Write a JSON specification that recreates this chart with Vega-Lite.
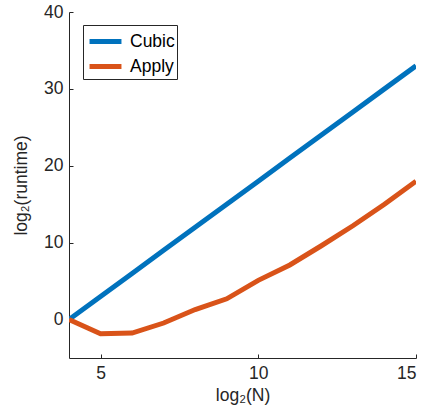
{
  "$schema": "https://vega.github.io/schema/vega-lite/v6.json",
  "width": 347,
  "height": 346,
  "autosize": {"type": "none"},
  "padding": {"left": 69, "top": 12, "right": 8, "bottom": 59},
  "background": "white",
  "config": {
    "view": {"stroke": null},
    "font": "Liberation Sans",
    "axis": {
      "grid": false,
      "domainColor": "#262626",
      "tickColor": "#262626",
      "labelColor": "#262626",
      "titleColor": "#262626",
      "labelFont": "Liberation Sans",
      "titleFont": "Liberation Sans",
      "labelFontSize": 17.5,
      "titleFontSize": 17.5,
      "titleFontWeight": "normal",
      "tickSize": -4,
      "domainWidth": 1,
      "tickWidth": 1
    }
  },
  "data": {
    "values": [
      {"n": 4, "v": 0, "s": "Cubic"},
      {"n": 5, "v": 3, "s": "Cubic"},
      {"n": 6, "v": 6, "s": "Cubic"},
      {"n": 7, "v": 9, "s": "Cubic"},
      {"n": 8, "v": 12, "s": "Cubic"},
      {"n": 9, "v": 15, "s": "Cubic"},
      {"n": 10, "v": 18, "s": "Cubic"},
      {"n": 11, "v": 21, "s": "Cubic"},
      {"n": 12, "v": 24, "s": "Cubic"},
      {"n": 13, "v": 27, "s": "Cubic"},
      {"n": 14, "v": 30, "s": "Cubic"},
      {"n": 15, "v": 33, "s": "Cubic"},
      {"n": 4, "v": 0, "s": "Apply"},
      {"n": 5, "v": -1.85, "s": "Apply"},
      {"n": 6, "v": -1.75, "s": "Apply"},
      {"n": 7, "v": -0.45, "s": "Apply"},
      {"n": 8, "v": 1.3, "s": "Apply"},
      {"n": 9, "v": 2.7, "s": "Apply"},
      {"n": 10, "v": 5.1, "s": "Apply"},
      {"n": 11, "v": 7.1, "s": "Apply"},
      {"n": 12, "v": 9.6, "s": "Apply"},
      {"n": 13, "v": 12.2, "s": "Apply"},
      {"n": 14, "v": 15.0, "s": "Apply"},
      {"n": 15, "v": 18.0, "s": "Apply"}
    ]
  },
  "mark": {"type": "line", "strokeWidth": 5, "clip": true},
  "encoding": {
    "x": {
      "field": "n", "type": "quantitative",
      "scale": {"domain": [4, 15], "nice": false, "zero": false},
      "axis": {"values": [5, 10, 15], "title": "log₂(N)", "labelPadding": 10, "titlePadding": 5}
    },
    "y": {
      "field": "v", "type": "quantitative",
      "scale": {"domain": [-5, 40], "nice": false, "zero": false},
      "axis": {"values": [0, 10, 20, 30, 40], "title": "log₂(runtime)", "labelPadding": 10, "titlePadding": 13}
    },
    "color": {
      "field": "s", "type": "nominal",
      "scale": {"domain": ["Cubic", "Apply"], "range": ["#0072BD", "#D95319"]},
      "legend": {
        "title": null,
        "orient": "none",
        "legendX": 14,
        "legendY": 13,
        "symbolType": "M-0.83,0H1.83",
        "symbolStrokeWidth": 5,
        "symbolSize": 576,
        "labelFontSize": 17.5,
        "labelFont": "Liberation Sans",
        "labelColor": "#000000",
        "labelOffset": 16,
        "labelExpr": "datum.label + '\u00a0\u00a0'",
        "strokeColor": "#262626",
        "padding": 2,
        "rowPadding": 0,
        "fillColor": "white"
      }
    }
  }
}
